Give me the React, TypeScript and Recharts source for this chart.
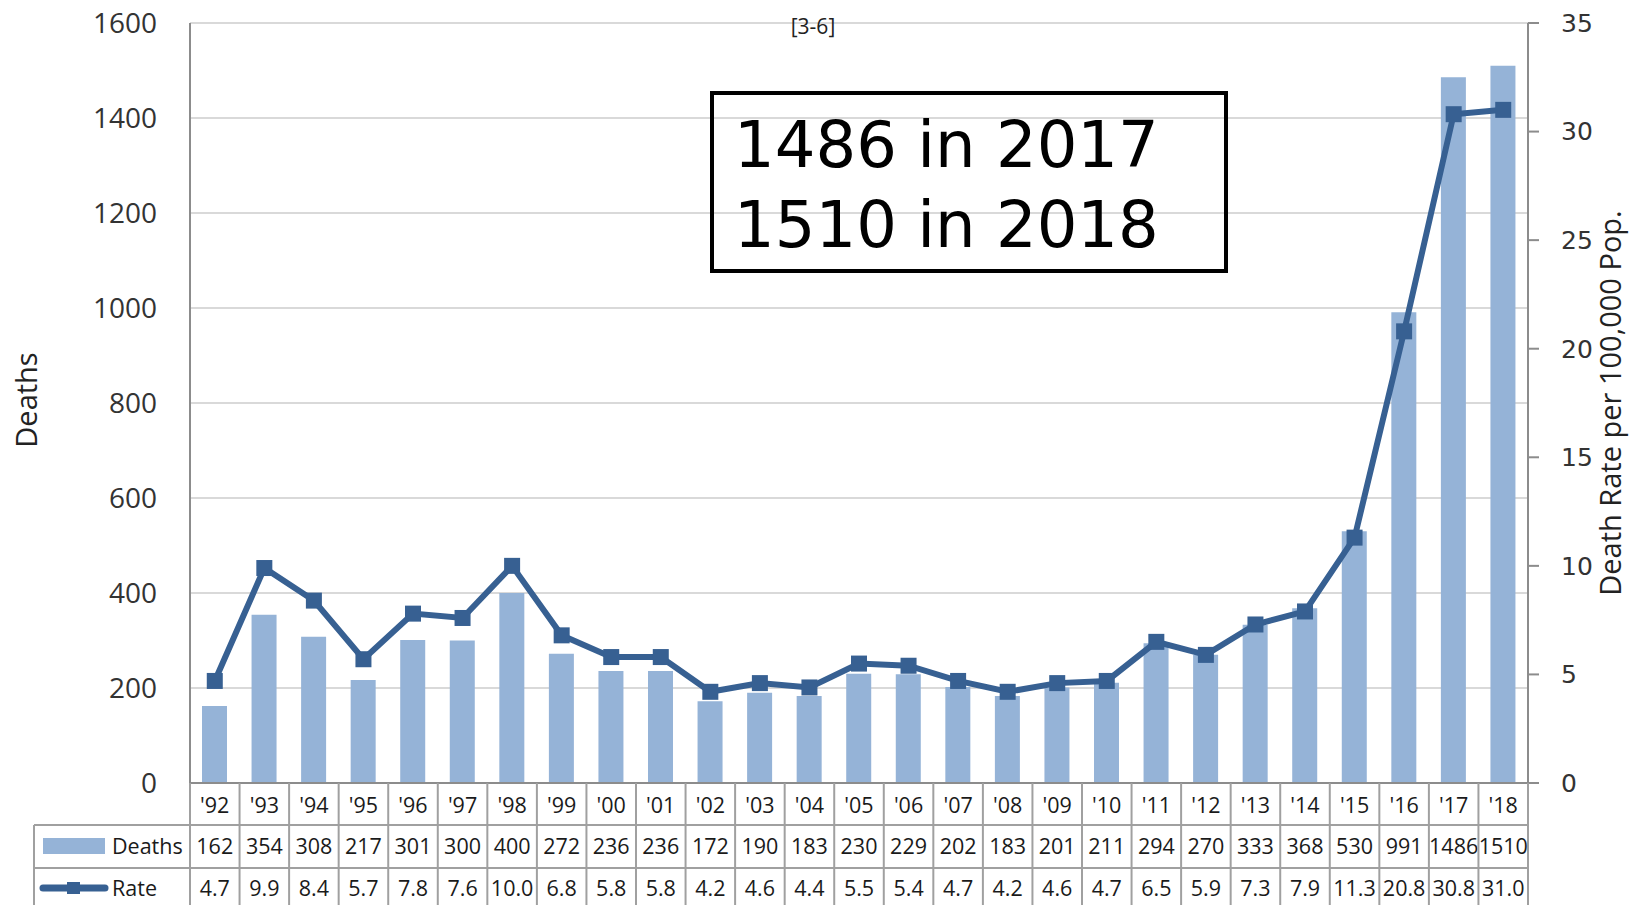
import React from 'react';
import { ComposedChart, Bar, Line, XAxis, YAxis, CartesianGrid } from 'recharts';

const years = ["'92", "'93", "'94", "'95", "'96", "'97", "'98", "'99", "'00", "'01", "'02", "'03", "'04", "'05", "'06", "'07", "'08", "'09", "'10", "'11", "'12", "'13", "'14", "'15", "'16", "'17", "'18"];
const deaths = [162, 354, 308, 217, 301, 300, 400, 272, 236, 236, 172, 190, 183, 230, 229, 202, 183, 201, 211, 294, 270, 333, 368, 530, 991, 1486, 1510];
const rates = [4.7, 9.9, 8.4, 5.7, 7.8, 7.6, 10.0, 6.8, 5.8, 5.8, 4.2, 4.6, 4.4, 5.5, 5.4, 4.7, 4.2, 4.6, 4.7, 6.5, 5.9, 7.3, 7.9, 11.3, 20.8, 30.8, 31.0];
const deathTicks = [0, 200, 400, 600, 800, 1000, 1200, 1400, 1600];
const rateTicks = [0, 5, 10, 15, 20, 25, 30, 35];

const data = years.map((year, i) => ({ year, deaths: deaths[i], rate: rates[i] }));

const W = 1638;
const H = 905;
const LEFT_W = 190;
const RIGHT_W = 110;
const TOP = 23;
const TABLE_H = 122;
const COL_W = (W - LEFT_W - RIGHT_W) / years.length;

const BAR_COLOR = '#95b3d7';
const LINE_COLOR = '#376092';
const AXIS_COLOR = '#8c8c8c';
const TABLE_LINE = '#a0a0a0';
const GRID = '#d9d9d9';
const SANS = '"Open Sans", "Noto Sans", sans-serif';
const VERDANA = '"DejaVu Sans", sans-serif';

const SquareDot = (props: any) => {
  const { cx, cy } = props;
  if (cx == null || cy == null) return null;
  return <rect x={cx - 8} y={cy - 8} width={16} height={16} fill={LINE_COLOR} />;
};

// year row + data table under the plot, drawn per category tick
const TableTick = (props: any) => {
  const { x, y, payload } = props;
  const i = payload.index;
  const left = x - COL_W / 2;
  const right = x + COL_W / 2;
  const last = i === years.length - 1;
  const txt = { fontFamily: SANS, fontSize: 21.5, fill: '#1a1a1a', textAnchor: 'middle' as const };
  return (
    <g>
      <line x1={left} y1={y} x2={left} y2={H} stroke={TABLE_LINE} strokeWidth={2} />
      {last && <line x1={right} y1={y} x2={right} y2={H} stroke={TABLE_LINE} strokeWidth={2} />}
      {i === 0 && (
        <g>
          <line x1={34} y1={y + 42} x2={W - RIGHT_W + 1} y2={y + 42} stroke={TABLE_LINE} strokeWidth={2} />
          <line x1={34} y1={y + 85} x2={W - RIGHT_W + 1} y2={y + 85} stroke={TABLE_LINE} strokeWidth={2} />
          <line x1={34} y1={y + 42} x2={34} y2={H} stroke={TABLE_LINE} strokeWidth={2} />
          <rect x={43} y={y + 55} width={62} height={16} fill={BAR_COLOR} />
          <text x={112} y={y + 71} fontFamily={SANS} fontSize={21.5} fill="#1a1a1a">Deaths</text>
          <line x1={43} y1={y + 105} x2={105} y2={y + 105} stroke={LINE_COLOR} strokeWidth={7} strokeLinecap="round" />
          <rect x={67} y={y + 99} width={13} height={12} fill={LINE_COLOR} />
          <text x={112} y={y + 113} fontFamily={SANS} fontSize={21.5} fill="#1a1a1a">Rate</text>
        </g>
      )}
      <text x={x} y={y + 30} {...txt}>{years[i]}</text>
      <text x={x} y={y + 71} {...txt}>{deaths[i]}</text>
      <text x={x} y={y + 113} {...txt}>{rates[i].toFixed(1)}</text>
    </g>
  );
};

export default function App() {
  return (
    <div style={{ position: 'relative', width: W, height: H, background: '#fff' }}>
      <style>{'body{margin:0}'}</style>
      <ComposedChart width={W} height={H} data={data} margin={{ top: TOP, right: 0, left: 0, bottom: 0 }}>
        <CartesianGrid vertical={false} yAxisId="deaths" stroke={GRID} strokeWidth={2} />
        <XAxis
          dataKey="year"
          height={TABLE_H}
          interval={0}
          tickSize={0}
          tickMargin={0}
          tickLine={false}
          axisLine={{ stroke: AXIS_COLOR, strokeWidth: 2 }}
          tick={<TableTick />}
        />
        <YAxis
          yAxisId="deaths"
          width={LEFT_W}
          domain={[0, 1600]}
          ticks={deathTicks}
          interval={0}
          tickLine={false}
          tickSize={6}
          tickMargin={27}
          axisLine={{ stroke: AXIS_COLOR, strokeWidth: 2 }}
          tick={{ fontFamily: SANS, fontSize: 28, fill: '#333' }}
        />
        <YAxis
          yAxisId="rate"
          orientation="right"
          width={RIGHT_W}
          domain={[0, 35]}
          ticks={rateTicks}
          interval={0}
          tickSize={11}
          tickMargin={22}
          tickLine={{ stroke: AXIS_COLOR, strokeWidth: 2 }}
          axisLine={{ stroke: AXIS_COLOR, strokeWidth: 2 }}
          tick={{ fontFamily: VERDANA, fontSize: 25, fill: '#333' }}
        />
        <Bar yAxisId="deaths" dataKey="deaths" fill={BAR_COLOR} barSize={25} isAnimationActive={false} />
        <Line
          yAxisId="rate"
          dataKey="rate"
          stroke={LINE_COLOR}
          strokeWidth={6}
          dot={<SquareDot />}
          activeDot={false}
          isAnimationActive={false}
        />
      </ComposedChart>
      <svg width={W} height={H} style={{ position: 'absolute', left: 0, top: 0, pointerEvents: 'none' }}>
        <text x={25} y={400} transform="rotate(-90 25 400)" textAnchor="middle" dominantBaseline="central" fontFamily={SANS} fontSize={29} fill="#222">Deaths</text>
        <text x={1609} y={403} transform="rotate(-90 1609 403)" textAnchor="middle" dominantBaseline="central" fontFamily={SANS} fontSize={29} fill="#222">Death Rate per 100,000 Pop.</text>
        <text x={813} y={34} textAnchor="middle" fontFamily={SANS} fontSize={21} fill="#222">[3-6]</text>
        <rect x={712} y={93} width={514} height={178} fill="none" stroke="#000" strokeWidth={4} />
        <text x={734} y={167} fontFamily={VERDANA} fontSize={64} fill="#000">1486 in 2017</text>
        <text x={734} y={247} fontFamily={VERDANA} fontSize={64} fill="#000">1510 in 2018</text>
      </svg>
    </div>
  );
}
